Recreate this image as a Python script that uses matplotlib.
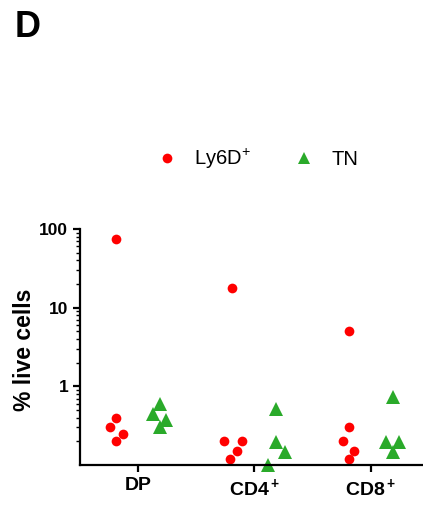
import numpy as np
import matplotlib.pyplot as plt
from matplotlib.lines import Line2D

plt.rcParams['font.family'] = ['Liberation Sans', 'DejaVu Sans']
plt.rcParams['mathtext.fontset'] = 'custom'
plt.rcParams['mathtext.rm'] = 'Liberation Sans'
plt.rcParams['mathtext.bf'] = 'Liberation Sans:bold'

# groups and values (% live cells)
groups = ['DP', r'CD4$^{\bf +}$', r'CD8$^{\bf +}$']
ly6d_vals = [[75, 0.40, 0.30, 0.25, 0.20],
             [18, 0.20, 0.20, 0.15, 0.12],
             [5.1, 0.30, 0.20, 0.15, 0.12]]
ly6d_jit = [[0, 0, -0.05, 0.06, 0],
            [0, -0.07, 0.08, 0.04, -0.02],
            [0, 0, -0.05, 0.05, 0]]
tn_vals = [[0.59, 0.45, 0.37, 0.30],
           [0.52, 0.195, 0.145, 0.10],
           [0.74, 0.195, 0.195, 0.145]]
tn_jit = [[0, -0.06, 0.05, 0],
          [0, 0, 0.07, -0.07],
          [0, -0.06, 0.05, 0]]

red = '#ff0000'
green = '#2aaa2a'

fig = plt.figure(figsize=(4.23, 5.07), dpi=100)
ax = fig.add_axes([80/423, 1-465/507, 1-80/423, (465-229)/507])

for i in range(len(groups)):
    x0 = i + 1
    ax.plot(x0 - 0.19 + np.array(ly6d_jit[i]), ly6d_vals[i], 'o', color=red,
            markersize=7, markeredgewidth=0, clip_on=False)
    ax.plot(x0 + 0.19 + np.array(tn_jit[i]), tn_vals[i], '^', color=green,
            markersize=9.5, markeredgewidth=0, clip_on=False)

ax.set_yscale('log')
ax.set_ylim(0.1, 100)
ax.set_xlim(0.5, 3.45)
ax.set_xticks([1, 2, 3])
ax.set_xticklabels(groups, fontsize=14, fontweight='bold')
ax.set_yticks([1, 10, 100])
ax.set_yticklabels(['1', '10', '100'], fontsize=12.5, fontweight='bold')
ax.set_ylabel('% live cells', fontsize=16.5, fontweight='bold')
ax.yaxis.set_label_coords(-0.128, 0.49)

for s in ['top', 'right']:
    ax.spines[s].set_visible(False)
for s in ['left', 'bottom']:
    ax.spines[s].set_linewidth(1.6)
ax.tick_params(axis='both', which='major', length=5, width=1.6, direction='out')
ax.tick_params(axis='y', which='minor', length=3, width=1.0, direction='out')
ax.tick_params(axis='y', which='minor', labelleft=False)

handles = [Line2D([], [], marker='o', linestyle='none', color=red, markersize=7, markeredgewidth=0),
           Line2D([], [], marker='^', linestyle='none', color=green, markersize=8.5, markeredgewidth=0)]
fig.legend(handles, [r'Ly6D$^{+}$', 'TN'], loc='center', bbox_to_anchor=(0.609, 1-159/507),
           ncol=2, frameon=False, fontsize=14.5, columnspacing=2.15, handlelength=1.0,
           handletextpad=0.85)

fig.text(15/423, 1-37/507, 'D', fontsize=26, fontweight='bold')

plt.savefig('out.png', dpi=100)
